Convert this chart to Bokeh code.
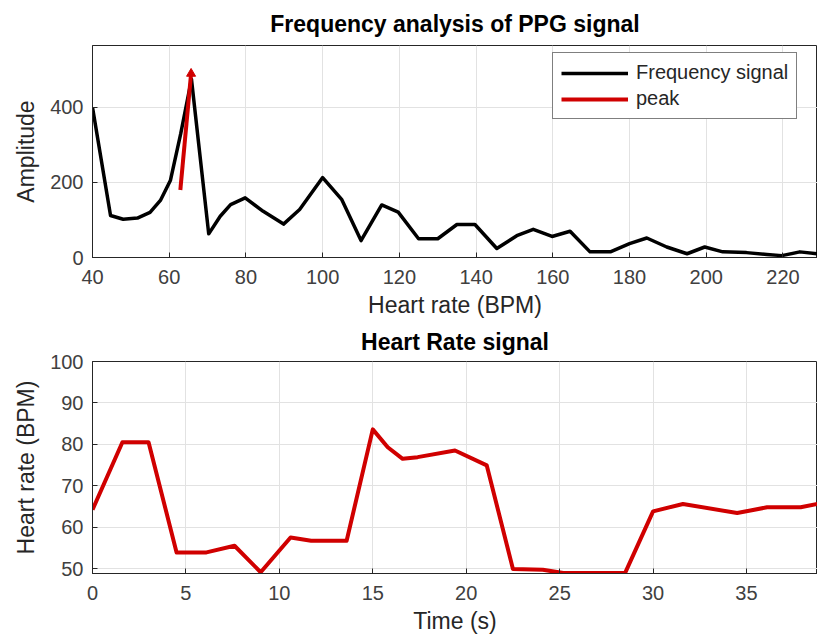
from bokeh.plotting import figure
from bokeh.models import Range1d, FixedTicker, Legend, LegendItem
from bokeh.layouts import column
from bokeh.embed import file_html
from bokeh.resources import INLINE

# ---- data: frequency analysis ----
freq_bpm = [40, 44.7, 48, 51.7, 55, 57.7, 60.3, 63, 65.8, 70.3, 73.3, 76, 79.8, 84.5, 89.8,
            94, 100, 105, 110, 115.4, 119.7, 125, 130, 135, 139.7, 145.4, 150.6, 154.9,
            159.8, 164.5, 169.7, 175, 180, 184.5, 189.7, 195, 199.6, 204.3, 210.5, 215.8,
            219.7, 224.4, 229]
freq_amp = [400, 112, 102, 105, 120, 152, 205, 330, 475, 63, 110, 141, 159, 123, 89,
            128, 213, 154, 45, 140, 121, 50, 50, 88, 88, 24, 58, 75,
            56, 70, 15, 15, 37, 52, 28, 10, 28, 15, 13, 8,
            5, 15, 10]
peak_bpm = [62.9, 65.7]
peak_amp = [180, 490]
freq_xticks = [40, 60, 80, 100, 120, 140, 160, 180, 200, 220]
freq_yticks = [0, 200, 400]

# ---- data: heart rate ----
time_s = [0, 1.6, 3.0, 4.5, 6.1, 7.6, 9.0, 10.6, 11.7, 13.6, 15.0, 15.8, 16.6, 17.4,
          19.4, 21.1, 22.5, 24.1, 25.2, 28.5, 30.0, 31.6, 34.5, 36.1, 37.9, 38.8]
hr_bpm = [64.2, 80.5, 80.5, 53.9, 53.9, 55.5, 49.1, 57.5, 56.7, 56.7, 83.6, 79.3, 76.5, 76.9,
          78.5, 74.9, 49.9, 49.7, 48.9, 48.9, 63.8, 65.6, 63.4, 64.8, 64.8, 65.6]
hr_xticks = [0, 5, 10, 15, 20, 25, 30, 35]
hr_yticks = [50, 60, 70, 80, 90, 100]

FONT = "Liberation Sans"
AX = "#262626"
TICKC = "#404040"
RED = "#d00000"


def style(p, xticks, yticks, xlabel, ylabel, title_standoff):
    p.xaxis.ticker = FixedTicker(ticks=xticks)
    p.yaxis.ticker = FixedTicker(ticks=yticks)
    p.xaxis.axis_label = xlabel
    p.yaxis.axis_label = ylabel
    for ax in [p.xaxis[0], p.yaxis[0]]:
        ax.major_tick_in = 5
        ax.major_tick_out = 0
        ax.minor_tick_line_color = None
        ax.axis_line_color = AX
        ax.major_tick_line_color = AX
        ax.major_label_text_font = FONT
        ax.major_label_text_font_size = "20px"
        ax.major_label_text_color = TICKC
        ax.axis_label_text_font = FONT
        ax.axis_label_text_font_size = "23px"
        ax.axis_label_text_font_style = "normal"
        ax.axis_label_text_color = AX
    p.xaxis.major_label_standoff = 12
    p.xaxis.axis_label_standoff = 5
    p.yaxis.major_label_standoff = 9
    p.yaxis.axis_label_standoff = 8
    p.grid.grid_line_color = "#e2e2e2"
    p.grid.grid_line_width = 1
    p.outline_line_color = AX
    p.outline_line_width = 1
    p.title.align = "center"
    p.title.text_font = FONT
    p.title.text_font_size = "23px"
    p.title.text_font_style = "bold"
    p.title.text_color = "black"
    p.title.standoff = title_standoff


p1 = figure(width=817, height=320, output_backend="svg", toolbar_location=None,
            x_range=Range1d(40, 229), y_range=Range1d(0, 565),
            title="Frequency analysis of PPG signal",
            min_border_left=92, min_border_right=0, min_border_top=43, min_border_bottom=61)
style(p1, freq_xticks, freq_yticks, "Heart rate (BPM)", "Amplitude", 17)
r_freq = p1.line(freq_bpm, freq_amp, line_color="black", line_width=3.5, line_join="round")
r_peak = p1.line(peak_bpm, peak_amp, line_color=RED, line_width=4)
p1.scatter(peak_bpm[1:], peak_amp[1:], marker="triangle", size=9, fill_color=RED,
           line_color=RED)
legend = Legend(items=[LegendItem(label="Frequency signal", renderers=[r_freq]),
                       LegendItem(label="peak", renderers=[r_peak])],
                location=(460, 138), label_text_font=FONT, label_text_font_size="20px",
                label_text_color=AX, glyph_width=67, glyph_height=18, label_height=18,
                label_standoff=8, spacing=3, padding=8, border_line_color="black",
                border_line_width=1, background_fill_alpha=1)
p1.add_layout(legend, "center")

p2 = figure(width=817, height=318, output_backend="svg", toolbar_location=None,
            x_range=Range1d(0, 38.8), y_range=Range1d(48.8, 100),
            title="Heart Rate signal",
            min_border_left=92, min_border_right=0, min_border_top=38, min_border_bottom=65)
style(p2, hr_xticks, hr_yticks, "Time (s)", "Heart rate (BPM)", 13)
p2.line(time_s, hr_bpm, line_color=RED, line_width=4, line_join="round")

layout = column(p1, p2, spacing=0)
open("out.html", "w").write(file_html(layout, INLINE))
